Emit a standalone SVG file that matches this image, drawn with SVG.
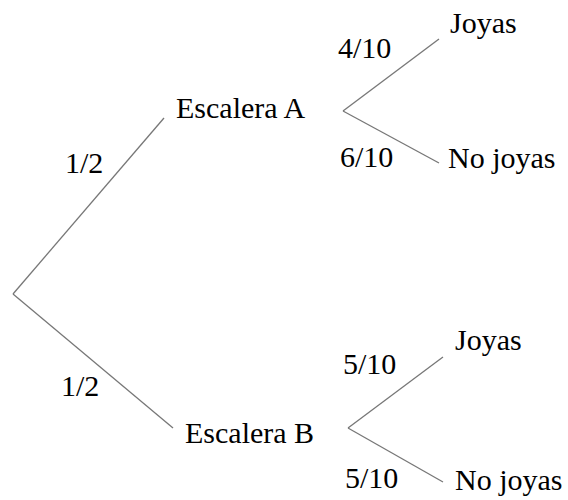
<svg xmlns="http://www.w3.org/2000/svg" width="568" height="500" viewBox="0 0 568 500">
<rect width="568" height="500" fill="#fff"/>
<g id="connectors" stroke="#777" stroke-width="1.3" fill="none">
<line x1="13" y1="294" x2="164" y2="118"/>
<line x1="13" y1="294" x2="173" y2="428"/>
<line x1="343" y1="111" x2="439" y2="39"/>
<line x1="343" y1="111" x2="439" y2="163"/>
<line x1="348" y1="428" x2="443" y2="357"/>
<line x1="348" y1="428" x2="443" y2="482"/>
</g>
<g id="edge-labels">
<text x="65" y="173" font-family="Liberation Serif" font-size="30">1/2</text>
<text x="61" y="396" font-family="Liberation Serif" font-size="30">1/2</text>
<text x="338" y="58" font-family="Liberation Serif" font-size="30">4/10</text>
<text x="340" y="167" font-family="Liberation Serif" font-size="30">6/10</text>
<text x="343" y="374" font-family="Liberation Serif" font-size="30">5/10</text>
<text x="345" y="488" font-family="Liberation Serif" font-size="30">5/10</text>
</g>
<g id="escaleraA"><text x="176" y="118" font-family="Liberation Serif" font-size="30">Escalera A</text></g>
<g id="escaleraB"><text x="185" y="443" font-family="Liberation Serif" font-size="30">Escalera B</text></g>
<g id="joyasA"><text x="450" y="33" font-family="Liberation Serif" font-size="30">Joyas</text></g>
<g id="nojoyasA"><text x="448" y="168" font-family="Liberation Serif" font-size="30">No joyas</text></g>
<g id="joyasB"><text x="455" y="350" font-family="Liberation Serif" font-size="30">Joyas</text></g>
<g id="nojoyasB"><text x="455" y="490" font-family="Liberation Serif" font-size="30">No joyas</text></g>
</svg>
